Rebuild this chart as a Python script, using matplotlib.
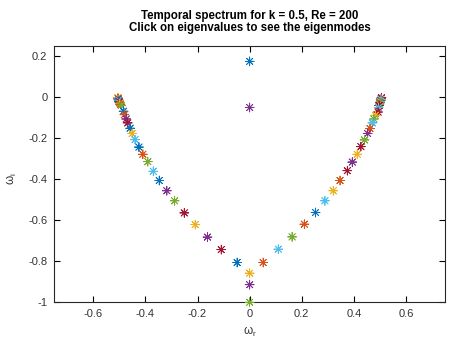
import matplotlib
matplotlib.use("Agg")
import matplotlib.pyplot as plt

plt.rcParams['font.family'] = ['Liberation Sans', 'DejaVu Sans']
plt.rcParams['mathtext.fontset'] = 'custom'
plt.rcParams['mathtext.rm'] = 'Liberation Sans'
plt.rcParams['mathtext.it'] = 'Liberation Sans'

# Octave default colour order
palette = {'b': '#0072BD', 'o': '#D95319', 'y': '#EDB120', 'p': '#7E2F8E',
           'g': '#77AC30', 'c': '#4DBEEE', 'r': '#A2142F'}

# eigenvalues: real part (omega_r) and imaginary part (omega_i)
center_r = [0.0, 0.0, 0.0, 0.0, 0.0]
center_i = [0.175, -0.05, -0.858, -0.914, -1.0]
center_c = ['b', 'p', 'y', 'p', 'g']

cluster_left_r = [-0.506, -0.505, -0.504, -0.503, -0.502, -0.500, -0.498, -0.496, -0.493]
cluster_left_i = [-0.002, -0.006, -0.010, -0.014, -0.019, -0.024, -0.029, -0.034, -0.040]
cluster_left_c = ['y', 'o', 'p', 'c', 'b', 'r', 'y', 'o', 'g']

left_r = [-0.484, -0.481, -0.474, -0.468, -0.459, -0.451, -0.440, -0.425, -0.410,
          -0.391, -0.370, -0.347, -0.318, -0.288, -0.251, -0.209, -0.162, -0.109, -0.048]
left_i = [-0.068, -0.085, -0.106, -0.125, -0.151, -0.177, -0.207, -0.243, -0.278,
          -0.314, -0.361, -0.406, -0.456, -0.505, -0.564, -0.621, -0.682, -0.743, -0.806]
left_c = ['b', 'o', 'p', 'r', 'b', 'y', 'c', 'b', 'o',
          'g', 'c', 'b', 'p', 'g', 'r', 'y', 'p', 'r', 'b']

cluster_right_r = [0.506, 0.505, 0.504, 0.503, 0.502, 0.500, 0.499, 0.497, 0.495]
cluster_right_i = [-0.002, -0.006, -0.010, -0.015, -0.020, -0.026, -0.033, -0.040, -0.050]
cluster_right_c = ['r', 'p', 'y', 'b', 'c', 'o', 'g', 'r', 'c']

right_r = [0.493, 0.483, 0.477, 0.471, 0.462, 0.453, 0.441, 0.427, 0.413,
           0.394, 0.375, 0.347, 0.321, 0.289, 0.253, 0.210, 0.163, 0.110, 0.052]
right_i = [-0.072, -0.088, -0.106, -0.125, -0.153, -0.177, -0.208, -0.241, -0.278,
           -0.316, -0.358, -0.406, -0.456, -0.505, -0.562, -0.619, -0.681, -0.741, -0.806]
right_c = ['r', 'y', 'g', 'c', 'o', 'p', 'g', 'r', 'y',
           'p', 'r', 'o', 'y', 'c', 'b', 'o', 'g', 'c', 'o']

xticks = [-0.6, -0.4, -0.2, 0, 0.2, 0.4, 0.6]
xticklabels = ['-0.6', '-0.4', '-0.2', '0', '0.2', '0.4', '0.6']
yticks = [-1, -0.8, -0.6, -0.4, -0.2, 0, 0.2]
yticklabels = ['-1', '-0.8', '-0.6', '-0.4', '-0.2', '0', '0.2']

fig = plt.figure(figsize=(4.64, 3.49), dpi=100)
ax = fig.add_axes([54.3 / 464, 1 - 302.3 / 349, (445 - 54.3) / 464, (302.3 - 46) / 349])

groups = [(center_r, center_i, center_c), (cluster_left_r, cluster_left_i, cluster_left_c),
          (left_r, left_i, left_c), (cluster_right_r, cluster_right_i, cluster_right_c),
          (right_r, right_i, right_c)]
for xs, ys, cs in groups:
    ax.scatter(xs, ys, c=[palette[k] for k in cs], marker=(8, 2, 0), s=40,
               linewidths=0.6, zorder=3, clip_on=False)

ax.set_xlim(-0.75, 0.75)
ax.set_ylim(-1, 0.25)
ax.set_xticks(xticks)
ax.set_xticklabels(xticklabels)
ax.set_yticks(yticks)
ax.set_yticklabels(yticklabels)
ax.tick_params(direction='in', length=4, width=0.8, labelsize=8,
               labelcolor='#333333', top=True, right=True, pad=5)
for s in ax.spines.values():
    s.set_linewidth(0.8)
    s.set_color('#262626')

ax.set_title('Temporal spectrum for k = 0.5, Re = 200\nClick on eigenvalues to see the eigenmodes',
             fontsize=8.3, fontweight='bold', linespacing=0.95, pad=11)
ax.set_xlabel(r'$\omega_\mathrm{r}$', fontsize=8.5, color='#333333')
ax.set_ylabel(r'$\omega_\mathrm{i}$', fontsize=8.5, color='#333333')
ax.xaxis.set_label_coords(0.5, -0.09)
ax.yaxis.set_label_coords(-0.09, 0.48)

fig.savefig('out.png', dpi=100)
